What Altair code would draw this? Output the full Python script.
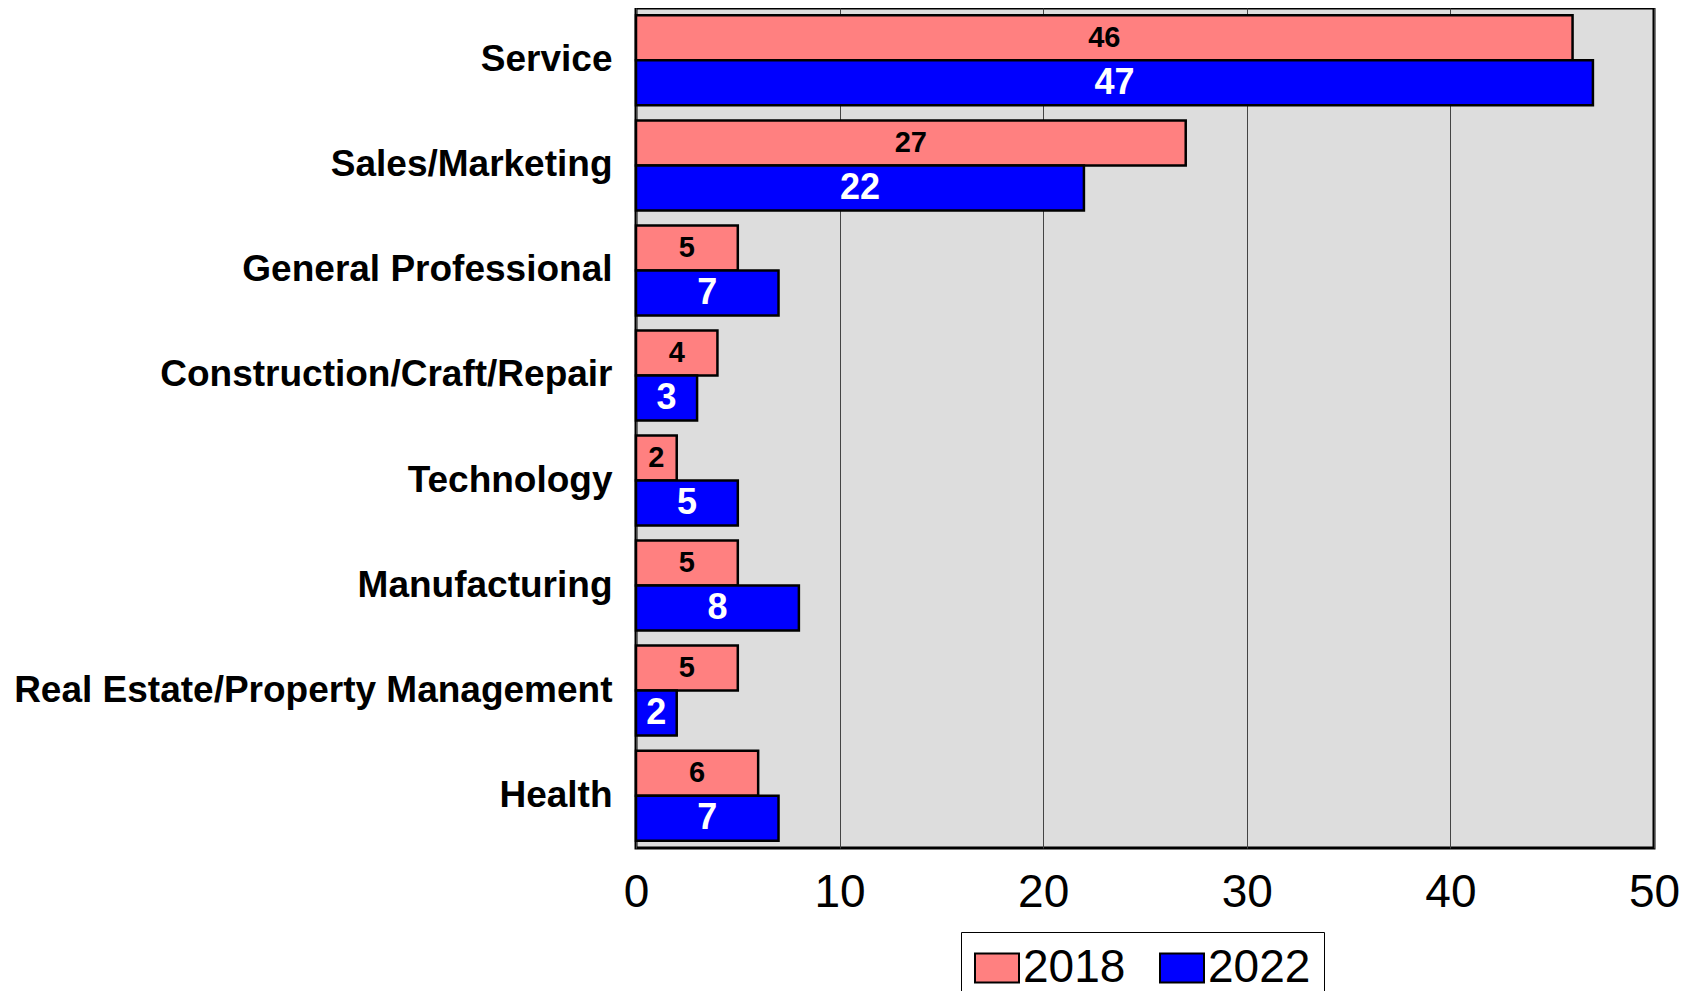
import altair as alt
import pandas as pd

categories = [
    "Service",
    "Sales/Marketing",
    "General Professional",
    "Construction/Craft/Repair",
    "Technology",
    "Manufacturing",
    "Real Estate/Property Management",
    "Health",
]
values_2018 = [46, 27, 5, 4, 2, 5, 5, 6]
values_2022 = [47, 22, 7, 3, 5, 8, 2, 7]
years = ["2018", "2022"]
colors = ["#FF8080", "#0000FF"]
x_ticks = [0, 10, 20, 30, 40, 50]

rows = []
for c, a, b in zip(categories, values_2018, values_2022):
    rows.append({"category": c, "year": "2018", "value": a})
    rows.append({"category": c, "year": "2022", "value": b})
df = pd.DataFrame(rows)

FONT = "Liberation Sans"

y_enc = alt.Y(
    "category:N",
    sort=categories,
    scale=alt.Scale(paddingInner=0.143, paddingOuter=0.07),
    axis=alt.Axis(
        title=None,
        ticks=False,
        domain=False,
        labelPadding=24,
        labelFontSize=37,
        labelFontWeight="bold",
        labelFont=FONT,
        labelColor="black",
        labelLimit=800,
    ),
)
yoff = alt.YOffset("year:N", sort=years, scale=alt.Scale(paddingInner=0, paddingOuter=0))

bars = alt.Chart(df).mark_bar(stroke="black", strokeWidth=2.5).encode(
    x=alt.X(
        "value:Q",
        scale=alt.Scale(domain=[0, 50], nice=False),
        axis=alt.Axis(
            title=None,
            values=x_ticks,
            ticks=False,
            domain=False,
            grid=True,
            gridColor="#444444",
            gridWidth=1,
            labelPadding=22,
            labelFontSize=46,
            labelFont=FONT,
            labelColor="black",
            labelFlush=False,
        ),
    ),
    y=y_enc,
    yOffset=yoff,
    color=alt.Color(
        "year:N",
        scale=alt.Scale(domain=years, range=colors),
        legend=alt.Legend(
            title=None,
            orient="none",
            legendX=325,
            legendY=924,
            direction="horizontal",
            strokeColor="black",
            fillColor="white",
            padding=13,
            symbolType="M-1,-0.66L1,-0.66L1,0.66L-1,0.66Z",
            symbolSize=1936,
            symbolStrokeColor="black",
            symbolStrokeWidth=2,
            symbolOpacity=1,
            labelFontSize=46,
            labelFont=FONT,
            labelColor="black",
            labelOffset=3,
            columnPadding=30,
        ),
    ),
)

base_text = alt.Chart(df).transform_calculate(mid="datum.value / 2")

text18 = base_text.transform_filter(alt.datum.year == "2018").mark_text(
    font=FONT, fontSize=29, fontWeight="bold", color="black", baseline="middle", align="center"
).encode(
    x=alt.X("mid:Q"),
    y=y_enc,
    yOffset=yoff,
    text=alt.Text("value:Q"),
)

text22 = base_text.transform_filter(alt.datum.year == "2022").mark_text(
    font=FONT, fontSize=36, fontWeight="bold", color="white", baseline="middle", align="center"
).encode(
    x=alt.X("mid:Q"),
    y=y_enc,
    yOffset=yoff,
    text=alt.Text("value:Q"),
)

chart = (
    alt.layer(bars, text18, text22)
    .properties(
        width=1018,
        height=840,
        autosize=alt.AutoSizeParams(type="none"),
        padding={"left": 628, "top": 0, "right": 36, "bottom": 143},
        background="white",
    )
    .configure_view(fill="#DDDDDD", stroke="black", strokeWidth=3)
)

chart.save("out.html", embed_options={"renderer": "svg", "actions": False})
